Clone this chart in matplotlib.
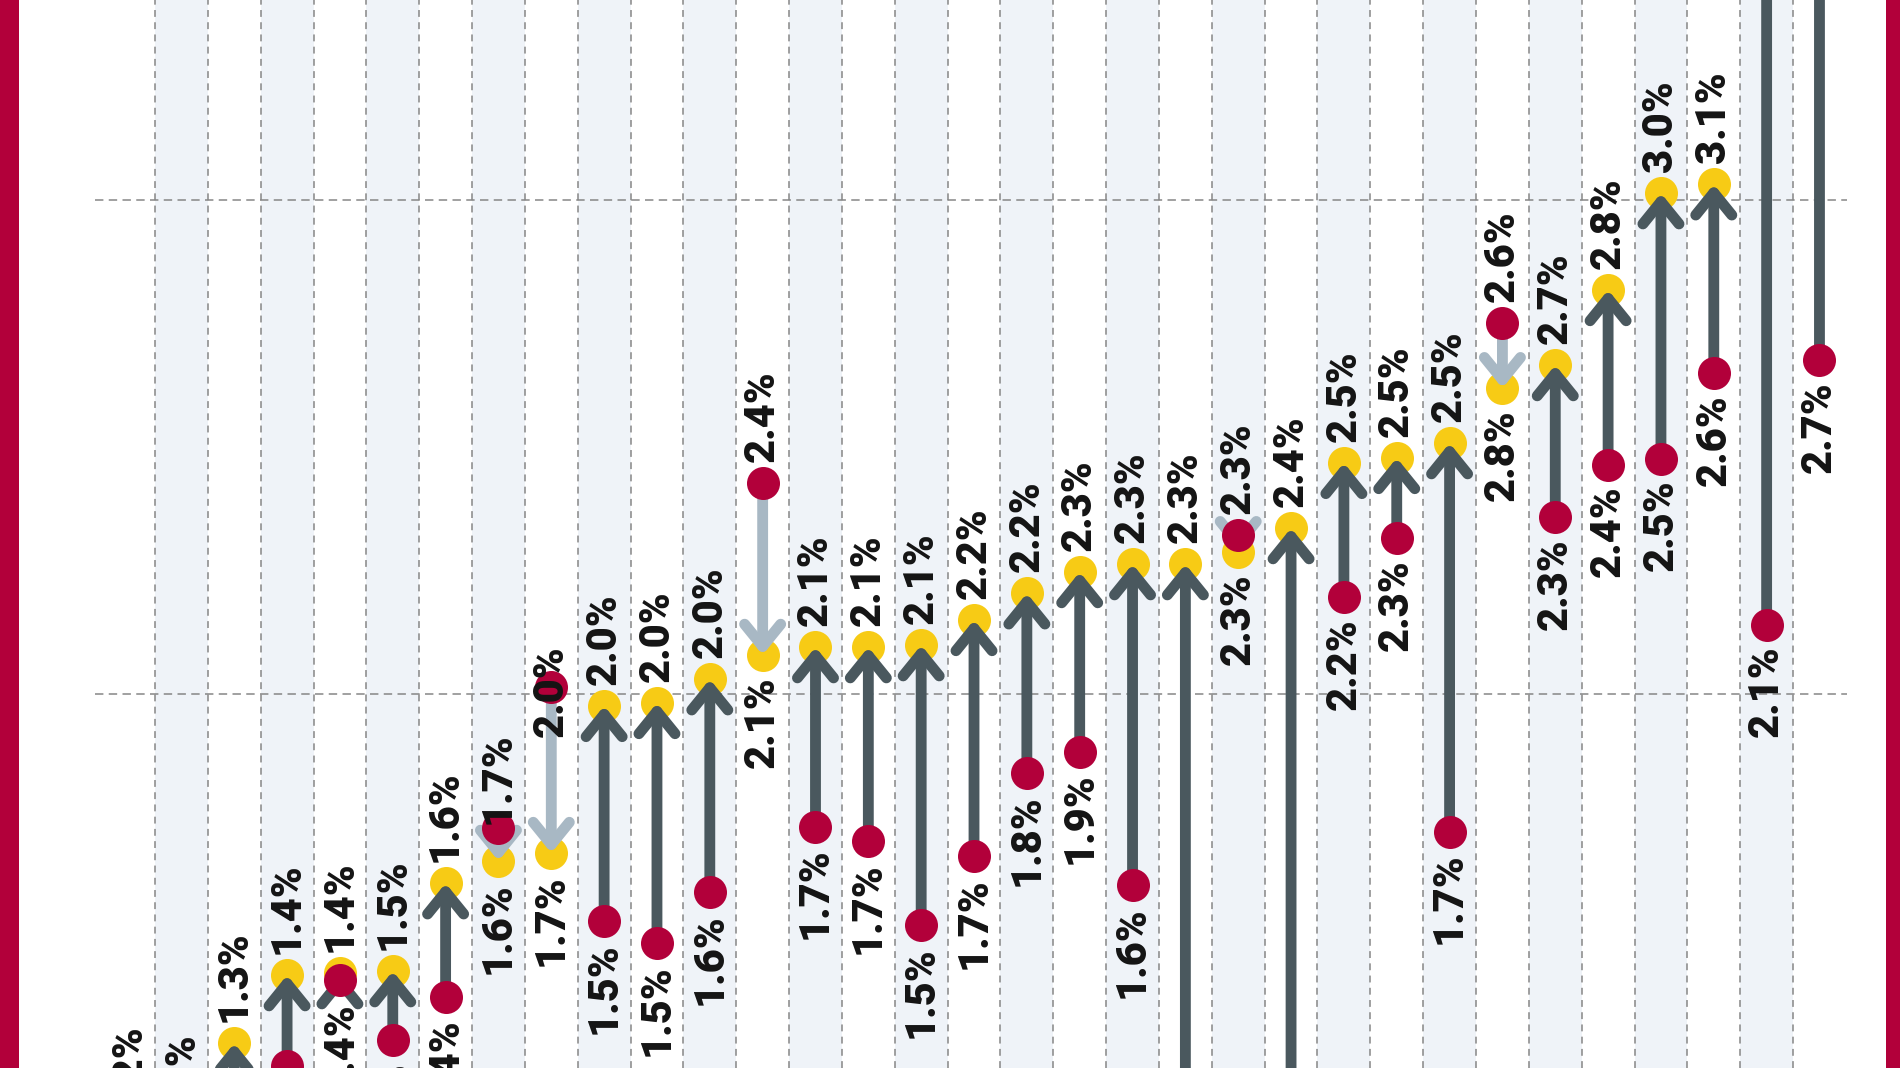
import matplotlib
matplotlib.use("Agg")
import matplotlib.pyplot as plt
from matplotlib.patches import Rectangle

plt.rcParams["font.family"] = ["Roboto", "DejaVu Sans"]

# values (percent); columns are left to right
start_vals = [0.95, 0.95, 1.15, 1.247, 1.421, 1.300, 1.387, 1.729, 2.014, 1.540,
              1.496, 1.599, 2.427, 1.731, 1.702, 1.532, 1.672, 1.840, 1.883, 1.613,
              1.10, 2.322, 1.10, 2.196, 2.316, 1.721, 2.751, 2.358, 2.464, 2.476,
              2.650, 2.140, 2.676]
end_vals = [1.105, 1.09, 1.293, 1.431, 1.435, 1.439, 1.617, 1.662, 1.678, 1.976,
            1.982, 2.030, 2.079, 2.095, 2.095, 2.099, 2.150, 2.204, 2.247, 2.263,
            2.263, 2.287, 2.336, 2.468, 2.478, 2.508, 2.619, 2.666, 2.818, 3.014,
            3.032, 3.60, 3.70]
start_labels = ["1.0%", "1.0%", "1.1%", "1.2%", "1.4%", "1.3%", "1.4%", "1.7%", "2.0%", "1.5%",
                "1.5%", "1.6%", "2.4%", "1.7%", "1.7%", "1.5%", "1.7%", "1.8%", "1.9%", "1.6%",
                "1.1%", "2.3%", "1.1%", "2.2%", "2.3%", "1.7%", "2.6%", "2.3%", "2.4%", "2.5%",
                "2.6%", "2.1%", "2.7%"]
end_labels = ["1.2%", "1.2%", "1.3%", "1.4%", "1.4%", "1.5%", "1.6%", "1.6%", "1.7%", "2.0%",
              "2.0%", "2.0%", "2.1%", "2.1%", "2.1%", "2.1%", "2.2%", "2.2%", "2.3%", "2.3%",
              "2.3%", "2.3%", "2.4%", "2.5%", "2.5%", "2.5%", "2.8%", "2.7%", "2.8%", "3.0%",
              "3.1%", "3.6%", "3.7%"]
grid_vals = [2.0, 3.0]

RED = "#b2003a"
YELLOW = "#f7cb15"
UP = "#4a585e"
DOWN = "#a8b8c4"
SHADE = "#eff3f8"

# the original pushes a couple of labels onto their dot
top_nudge = {7: -12, 8: -51}

n = len(start_vals)
xs = list(range(n))

fig = plt.figure(figsize=(19, 10.68), dpi=100)
ax = fig.add_axes([0, 0, 1, 1])
ax.set_xlim(-2.433, 33.524)
ax.set_ylim(1.2429, 3.405)
ax.axis("off")

# alternating column bands + dashed separators
for i in xs:
    if i % 2 == 1:
        ax.axvspan(i - 0.5, i + 0.5, color=SHADE, lw=0, zorder=0)
for i in xs[:-1]:
    ax.axvline(i + 0.5, color="#868686", lw=1.1, ls=(0, (4.5, 3.5)), zorder=1)
ax.hlines(grid_vals, -0.635, n - 0.48, colors="#868686", lw=1.1,
          linestyles=(0, (5.5, 3.5)), zorder=2)

ax.scatter(xs, end_vals, s=565, color=YELLOW, linewidths=0, zorder=3)

for i in xs:
    a, b = start_vals[i], end_vals[i]
    col = UP if b >= a else DOWN
    ax.annotate("", xy=(i, b), xytext=(i, a), annotation_clip=False,
                arrowprops=dict(arrowstyle="->,head_length=16,head_width=13",
                                mutation_scale=1, lw=7.8, color=col,
                                shrinkA=0, shrinkB=0), zorder=4)

ax.scatter(xs, start_vals, s=565, color=RED, linewidths=0, zorder=5)

# labels: above the higher dot, below the lower one
txt = dict(rotation=90, ha="center", fontsize=30, fontweight="black",
           color="#141414", textcoords="offset points", zorder=6,
           annotation_clip=False)
for i in xs:
    a, b = start_vals[i], end_vals[i]
    if b >= a:
        top, top_lab, bot, bot_lab = b, end_labels[i], a, start_labels[i]
    else:
        top, top_lab, bot, bot_lab = a, start_labels[i], b, end_labels[i]
    ax.annotate(top_lab, xy=(i, top), xytext=(0, 15 + top_nudge.get(i, 0)),
                va="bottom", **txt)
    ax.annotate(bot_lab, xy=(i, bot), xytext=(0, -15), va="top", **txt)

# crimson frame edges
ax.add_patch(Rectangle((0, 0), 19 / 1900, 1, transform=ax.transAxes,
                       color=RED, lw=0, zorder=10, clip_on=False))
ax.add_patch(Rectangle((1886 / 1900, 0), 14 / 1900, 1, transform=ax.transAxes,
                       color=RED, lw=0, zorder=10, clip_on=False))

fig.savefig("out.png", dpi=100, facecolor="white")
